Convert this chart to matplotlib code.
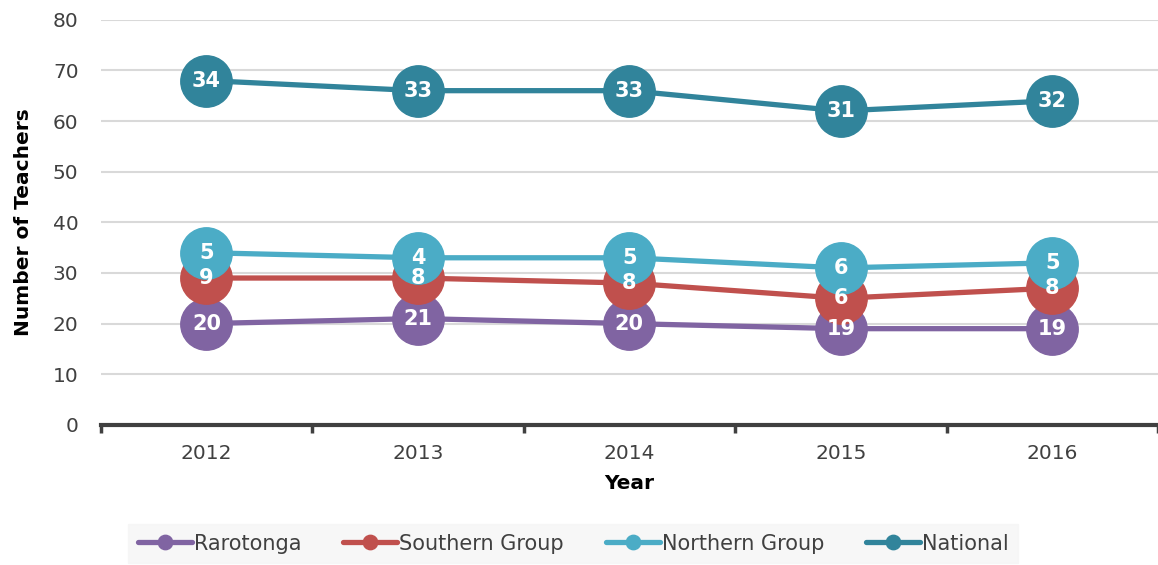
import numpy as np
import matplotlib
matplotlib.use("Agg")
import matplotlib.pyplot as plt

years = ["2012", "2013", "2014", "2015", "2016"]
rarotonga = [20, 21, 20, 19, 19]
southern = [9, 8, 8, 6, 8]
northern = [5, 4, 5, 6, 5]
national = [34, 33, 33, 31, 32]
names = ["Rarotonga", "Southern Group", "Northern Group", "National"]
colors = ["#8064A2", "#C0504D", "#4BACC6", "#31849B"]

plt.rcParams['font.family'] = ['DejaVu Sans']

fig = plt.figure(figsize=(11.58, 5.65), dpi=100)
ax = fig.add_axes([0.087, 0.248, 0.913, 0.717])

x = np.arange(len(years))
series = np.array([rarotonga, southern, northern, national])
# stacked line chart: each line sits on top of the previous ones
stacked = np.cumsum(series, axis=0)

for vals, pos, name, c in zip(series, stacked, names, colors):
    ax.plot(x, pos, color=c, lw=3.8, marker='o', ms=37, label=name,
            solid_capstyle='round', zorder=3)
    for xi, yi, v in zip(x, pos, vals):
        ax.text(xi, yi, str(v), color='white', fontsize=15, fontweight='bold',
                ha='center', va='center', zorder=4)

ax.set_xlim(-0.5, 4.5)
ax.set_ylim(0, 80)
ax.set_yticks(range(0, 81, 10))
ax.set_xticks(x)
ax.set_xticklabels(years)
ax.set_xticks(np.arange(-0.5, 4.6, 1), minor=True)
ax.tick_params(axis='x', which='major', length=0, pad=14, labelsize=14.5, colors='#404040')
ax.tick_params(axis='x', which='minor', length=6, width=2.5, color='#404040', direction='out')
ax.tick_params(axis='y', length=0, labelsize=14.5, colors='#404040', pad=16)
ax.grid(axis='y', color='#d9d9d9', lw=1.5, zorder=0)
ax.set_axisbelow(True)
for s in ['top', 'right', 'left']:
    ax.spines[s].set_visible(False)
ax.spines['bottom'].set_color('#404040')
ax.spines['bottom'].set_linewidth(3)

ax.set_xlabel("Year", fontsize=14.5, fontweight='bold', labelpad=8)
ax.set_ylabel("Number of Teachers", fontsize=14.5, fontweight='bold', labelpad=14)

handles, labels = ax.get_legend_handles_labels()
leg = fig.legend(handles, labels, loc='lower center', bbox_to_anchor=(0.495, -0.015),
                 ncol=4, frameon=True, fontsize=15, markerscale=0.28,
                 handlelength=2.6, columnspacing=2.0, handletextpad=0.1,
                 borderpad=0.45)
leg.get_frame().set_facecolor('#f5f5f5')
leg.get_frame().set_edgecolor('#f5f5f5')
leg.get_frame().set_boxstyle('square', pad=0)
for t in leg.get_texts():
    t.set_color('#404040')

fig.savefig("out.png", dpi=100)
